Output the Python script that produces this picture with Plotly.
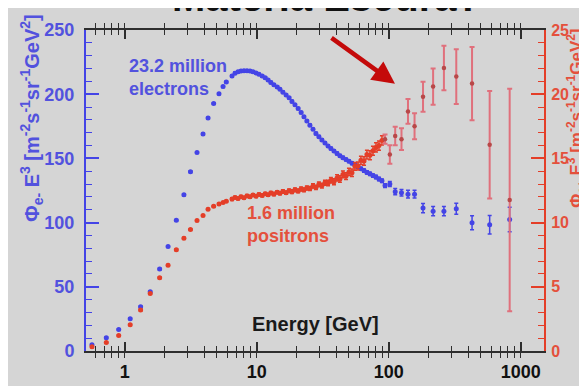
import plotly.graph_objects as go

# ---------------- data ----------------
energy_gev = [
    0.565, 0.725, 0.901, 1.10, 1.32, 1.56, 1.84, 2.13, 2.46, 2.81, 3.15, 3.53, 3.92, 4.28, 4.72, 5.18, 5.56, 5.88,
    6.50, 6.85, 7.22, 7.60, 8.01, 8.44, 8.90, 9.37, 9.88, 10.4, 11.0, 11.6, 12.2, 12.8, 13.5, 14.3, 15.0, 15.8,
    16.7, 17.6, 18.5, 19.5, 20.6, 21.7, 22.8, 24.0, 25.3, 26.7, 28.1, 29.6, 31.2, 32.9, 34.7, 36.5, 38.5, 40.6,
    42.7, 45.0, 47.5, 50.0, 52.7, 55.5, 58.5, 61.6, 65.0, 68.4, 72.1, 76.0, 80.1, 84.4, 88.9,
    93.8, 102, 112, 125, 140, 157, 182, 217, 262, 325, 428, 582, 825,
]

electron_flux = [
    4.8, 10.3, 16.8, 25.1, 34.5, 46.2, 63.8, 81.4, 101.9, 121.6, 139.7, 154.6, 169.1, 181.4, 192.7, 200.4, 205.9, 209.5,
    214.1, 216.4, 217.5, 218.0, 218.2, 218.2, 218.0, 217.5, 216.5, 215.5, 214.2, 212.8, 211.0, 209.2, 207.4, 205.6,
    203.8, 201.6, 199.4, 197.3, 194.4, 191.8, 188.9, 185.7, 182.4, 179.2, 175.9, 172.7, 169.4, 166.9, 164.4, 162.0,
    159.7, 157.7, 155.7, 153.9, 152.1, 150.6, 149.2, 147.8, 146.3, 144.9, 143.4, 142.0, 140.5, 139.1, 138.0, 136.6,
    135.5, 134.0, 132.6,
    128.8, 130.1, 124.1, 123.3, 122.1, 122.1, 111.3, 108.9, 108.9, 110.8, 99.9, 98.3, 102.4,
]
electron_err = [
    0.6, 0.6, 0.6, 0.6, 0.6, 0.6, 0.6, 0.6, 0.6, 0.6, 0.6, 0.6, 0.6, 0.6, 0.6, 0.6, 0.6, 0.6,
    0.8, 0.8, 0.8, 0.8, 0.8, 0.8, 0.8, 0.8, 0.8, 0.8, 0.8, 0.8, 0.8, 0.8, 0.8, 0.8, 0.8, 0.8,
    0.8, 0.8, 0.8, 0.8, 0.8, 0.8, 0.8, 0.8, 0.8, 0.8, 0.9, 0.9, 0.9, 0.9, 0.9, 0.9, 1.0, 1.0,
    1.0, 1.0, 1.0, 1.0, 1.1, 1.1, 1.1, 1.2, 1.2, 1.2, 1.3, 1.3, 1.3, 1.4, 1.4,
    1.5, 2.0, 2.5, 2.5, 3.0, 3.0, 3.6, 3.6, 3.6, 4.3, 5.4, 7.2, 9.6,
]

positron_flux = [
    0.33, 0.67, 1.21, 2.04, 3.20, 4.48, 5.71, 6.67, 7.88, 8.79, 9.47, 10.17, 10.55, 11.03, 11.27, 11.44, 11.56, 11.67,
    11.83, 11.95, 11.88, 12.02, 11.93, 12.08, 12.01, 12.15, 12.06, 12.19, 12.12, 12.24, 12.16, 12.30, 12.22, 12.36,
    12.29, 12.42, 12.33, 12.48, 12.41, 12.55, 12.47, 12.62, 12.55, 12.70, 12.66, 12.86, 12.74, 12.98, 12.88, 13.10,
    13.08, 13.30, 13.18, 13.48, 13.40, 13.75, 13.62, 13.95, 13.88, 14.38, 14.40, 14.85, 14.80, 15.30, 15.25, 15.60,
    15.85, 16.00, 16.40,
    16.50, 15.30, 16.74, 16.50, 18.66, 17.51, 19.80, 20.59, 22.04, 21.37, 20.83, 16.06, 11.76,
]
positron_err = [
    0.06, 0.06, 0.06, 0.06, 0.06, 0.06, 0.06, 0.06, 0.06, 0.06, 0.06, 0.06, 0.06, 0.06, 0.06, 0.06, 0.06, 0.06,
    0.10, 0.10, 0.10, 0.10, 0.10, 0.10, 0.10, 0.10, 0.10, 0.11, 0.11, 0.11, 0.11, 0.12, 0.12, 0.12, 0.12, 0.13,
    0.13, 0.13, 0.14, 0.14, 0.14, 0.15, 0.15, 0.16, 0.16, 0.17, 0.17, 0.18, 0.19, 0.20, 0.21, 0.22, 0.23, 0.24,
    0.25, 0.26, 0.27, 0.28, 0.29, 0.30, 0.31, 0.32, 0.33, 0.34, 0.35, 0.35, 0.36, 0.36, 0.36,
    0.36, 0.72, 0.72, 0.85, 0.96, 1.01, 1.16, 1.41, 1.73, 2.13, 2.85, 4.19, 8.67,
]

x_major_vals = [1, 10, 100, 1000]
x_major_text = ["1", "10", "100", "1000"]
x_minor_vals = [0.6, 0.7, 0.8, 0.9, 2, 3, 4, 5, 6, 7, 8, 9, 20, 30, 40, 50, 60, 70, 80, 90,
                200, 300, 400, 500, 600, 700, 800, 900]

N_BAND = 69  # points of the dense positron band (rest: high-energy points)

# ---------------- styles ----------------
BG = "#d5d5d5"
BLUE = "#4444e6"
BLUE_TXT = "#5252de"
RED = "#e43e28"
RED_TXT = "#e4503c"
PINK = "#e0707c"
AXIS_DARK = "#2e2e2e"
FONT = "Liberation Sans, Arial, sans-serif"
X_RANGE = [-0.2932, 3.1765]

fig = go.Figure()

fig.add_trace(go.Scatter(
    x=energy_gev, y=electron_flux, mode="markers",
    marker=dict(color=BLUE, size=5, line=dict(width=0)),
    error_y=dict(type="data", array=electron_err, color=BLUE, thickness=1.5, width=2),
    yaxis="y", showlegend=False, name="electrons",
))

fig.add_trace(go.Scatter(
    x=energy_gev[:N_BAND], y=positron_flux[:N_BAND], mode="markers",
    marker=dict(color=RED, size=5, line=dict(width=0)),
    error_y=dict(type="data", array=positron_err[:N_BAND], color=RED, thickness=1.5, width=2),
    yaxis="y2", showlegend=False, name="positrons",
))

fig.add_trace(go.Scatter(
    x=energy_gev[N_BAND:], y=positron_flux[N_BAND:], mode="markers",
    marker=dict(color="#b84848", size=4.5, line=dict(width=0)),
    error_y=dict(type="data", array=positron_err[N_BAND:], color=PINK, thickness=2, width=2.5),
    yaxis="y2", showlegend=False, name="positrons high",
))

# invisible carrier trace so the major-tick x axis is drawn
fig.add_trace(go.Scatter(
    x=energy_gev[:1], y=electron_flux[:1], mode="markers",
    marker=dict(opacity=0), xaxis="x2", yaxis="y",
    showlegend=False, hoverinfo="skip",
))

fig.update_layout(
    width=587, height=386,
    margin=dict(l=78, r=51, t=14, b=26),
    paper_bgcolor=BG, plot_bgcolor=BG,
    font=dict(family=FONT),
    xaxis=dict(
        type="log", range=X_RANGE,
        tickmode="array",
        tickvals=x_major_vals + x_minor_vals,
        ticktext=x_major_text + [""] * len(x_minor_vals),
        ticks="inside", ticklen=5, tickwidth=1.3, tickcolor=AXIS_DARK,
        showline=True, linecolor=AXIS_DARK, linewidth=2, mirror="allticks",
        showgrid=False, zeroline=False, ticklabelstandoff=3,
        tickfont=dict(size=18, color="#111111", weight="bold", family=FONT),
    ),
    xaxis2=dict(
        type="log", range=X_RANGE, overlaying="x", anchor="y",
        tickmode="array", tickvals=x_major_vals,
        ticks="inside", ticklen=9, tickwidth=1.6, tickcolor=AXIS_DARK,
        showticklabels=False, showline=False, mirror="allticks",
        showgrid=False, zeroline=False,
    ),
    yaxis=dict(
        range=[0, 250], tickvals=[0, 50, 100, 150, 200, 250],
        ticks="inside", ticklen=13, tickwidth=1.5, tickcolor=BLUE,
        minor=dict(dtick=10, ticks="inside", ticklen=6, tickwidth=1.2, tickcolor=BLUE),
        showline=True, linecolor=BLUE, linewidth=2,
        showgrid=False, zeroline=False, ticklabelstandoff=6,
        tickfont=dict(size=18, color=BLUE_TXT, weight="bold", family=FONT),
    ),
    yaxis2=dict(
        range=[0, 25], tickvals=[0, 5, 10, 15, 20, 25],
        overlaying="y", side="right",
        ticks="inside", ticklen=13, tickwidth=1.5, tickcolor=RED,
        minor=dict(dtick=1, ticks="inside", ticklen=6, tickwidth=1.2, tickcolor=RED),
        showline=True, linecolor=RED, linewidth=2,
        showgrid=False, zeroline=False, ticklabelstandoff=2,
        tickfont=dict(size=16, color=RED_TXT, weight="bold", family=FONT),
    ),
)

annotations = [
    # cut-off slide title
    dict(text="Matéria Escura?", xref="paper", yref="paper", x=0.525, y=1.0,
         xanchor="center", yanchor="bottom", yshift=9, showarrow=False,
         font=dict(size=40, color="#111111", weight="bold", family=FONT)),
    dict(text="23.2 million<br>electrons", xref="paper", yref="paper", x=0.0895, y=0.8526,
         xanchor="left", yanchor="middle", align="left", showarrow=False,
         font=dict(size=18, color=BLUE_TXT, weight="bold", family=FONT)),
    dict(text="1.6 million<br>positrons", xref="paper", yref="paper", x=0.347, y=0.393,
         xanchor="left", yanchor="middle", align="left", showarrow=False,
         font=dict(size=18, color=RED_TXT, weight="bold", family=FONT)),
    dict(text="Energy [GeV]", xref="paper", yref="paper", x=0.5, y=0.0838,
         xanchor="center", yanchor="middle", showarrow=False,
         font=dict(size=20, color="#1a1a1a", weight="bold", family=FONT)),
    dict(text="Φ<sub>e-</sub> E<sup>3</sup> [m<sup>-2</sup>s<sup>-1</sup>sr<sup>-1</sup>GeV<sup>2</sup>]",
         xref="paper", yref="paper", x=-0.119, y=0.725, textangle=-90,
         xanchor="center", yanchor="middle", showarrow=False,
         font=dict(size=20, color=BLUE_TXT, weight="bold", family=FONT)),
    dict(text="Φ<sub>e+</sub> E<sup>3</sup> [m<sup>-2</sup>s<sup>-1</sup>sr<sup>-1</sup>GeV<sup>2</sup>]",
         xref="paper", yref="paper", x=1.071, y=0.725, textangle=-90,
         xanchor="center", yanchor="middle", showarrow=False,
         font=dict(size=17, color=RED_TXT, weight="bold", family=FONT)),
    # red arrow
    dict(text="", xref="x", yref="y", x=2.0477, y=208.1, ax=-65, ay=-47,
         showarrow=True, arrowhead=2, arrowsize=1.0, arrowwidth=4.5, arrowcolor="#c40a0a",
         standoff=0),
]
fig.update_layout(annotations=annotations)

fig.write_html("out.html")
